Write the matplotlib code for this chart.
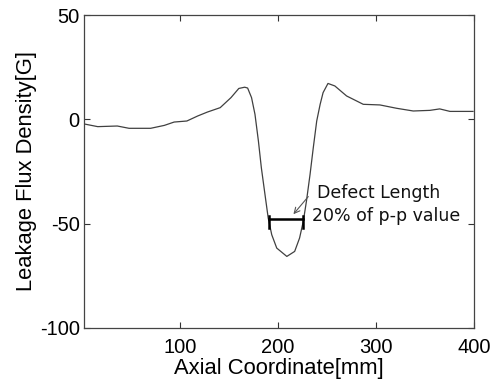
import matplotlib.pyplot as plt

# values
axial_mm = [2, 16, 36, 48, 70, 84, 94, 107, 118, 128, 141, 152, 160, 166, 169,
            173, 176.5, 180, 183, 186.7, 190, 193.6, 198.7, 209, 217, 222, 225.8,
            229, 232.7, 236, 239.5, 243, 246, 251, 258, 270, 287, 304, 321, 338,
            355, 365, 375.5, 399]
flux_g = [-2.2, -3.5, -3.2, -4.3, -4.3, -2.9, -1.3, -0.8, 1.6, 3.5, 5.6, 10.4, 14.8,
          15.4, 15.0, 10.4, 2.4, -10.4, -23.2, -36, -47.3, -55.3, -61.7, -65.7, -63.3,
          -56.9, -48.9, -39.3, -26.4, -13.6, -0.8, 7.2, 12.8, 17.2, 16, 11.2, 7.2,
          6.9, 5.3, 4.0, 4.3, 5.0, 3.8, 3.8]

defect_start, defect_end = 191, 226
defect_level = -48

x_ticks = [100, 200, 300, 400]
y_ticks = [-100, -50, 0, 50]

plt.rcParams['font.family'] = ['Liberation Sans', 'DejaVu Sans']
plt.rcParams['axes.unicode_minus'] = False

fig = plt.figure(figsize=(4.94, 3.82), dpi=100)
ax = fig.add_axes([0.170, 0.1414, 0.7895, 0.8193])

ax.plot(axial_mm, flux_g, color='#404040', lw=0.9)

# defect length marker
ax.plot([defect_start, defect_end], [defect_level, defect_level], color='black', lw=1.8)
for xc in (defect_start, defect_end):
    ax.plot([xc, xc], [defect_level + 1.5, defect_level - 4], color='black', lw=1.8)

ax.annotate('', xy=(213.9, -46.5), xytext=(232.7, -36),
            arrowprops=dict(arrowstyle='->', color='#555555', lw=0.8))
ax.text(240, -35.5, 'Defect Length', fontsize=12.5, family=['DejaVu Sans'],
        va='center', ha='left', color='#111111')
ax.text(234.5, -46.5, '20% of p-p value', fontsize=12.5, family=['DejaVu Sans'],
        va='center', ha='left', color='#111111')

ax.set_xlim(2, 400)
ax.set_ylim(-100, 50)
ax.set_xticks(x_ticks)
ax.set_yticks(y_ticks)
ax.tick_params(direction='in', top=True, right=True, length=4, width=0.8,
               labelsize=14.5, color='#333333')
ax.tick_params(axis='x', pad=7)
ax.tick_params(axis='y', pad=3)
for s in ax.spines.values():
    s.set_color('#444444')
    s.set_linewidth(0.9)

ax.set_xlabel('Axial Coordinate[mm]', fontsize=15.8, labelpad=1)
ax.set_ylabel('Leakage Flux Density[G]', fontsize=15.8, labelpad=2)

fig.savefig('out.png', dpi=100)
